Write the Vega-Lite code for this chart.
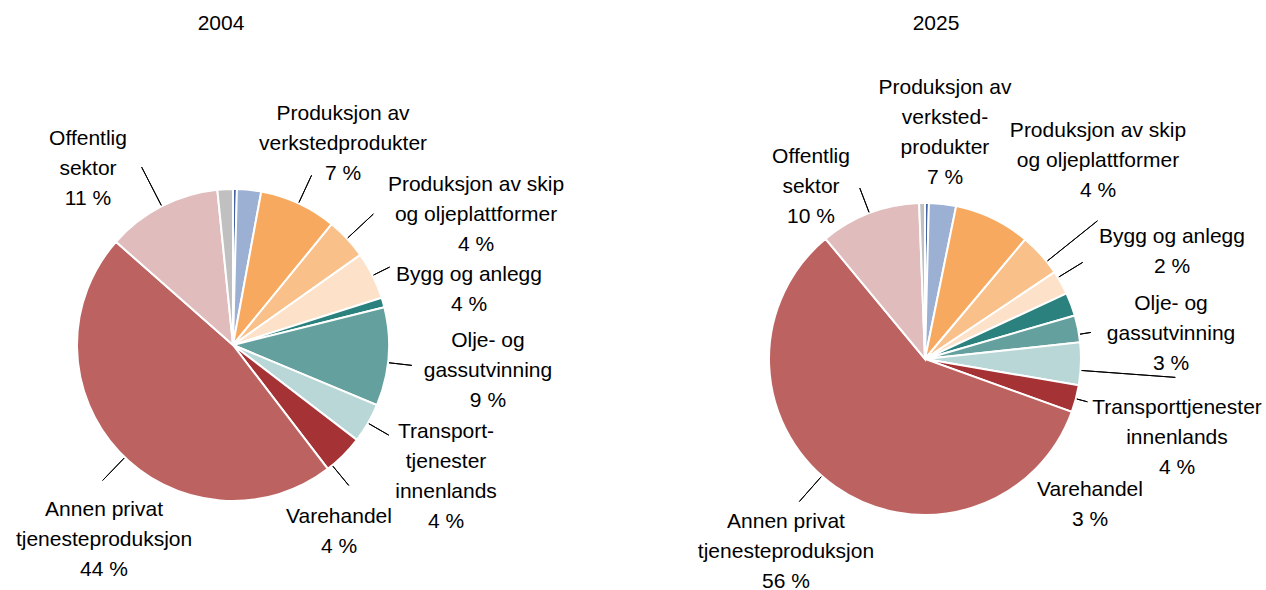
{
  "$schema": "https://vega.github.io/schema/vega-lite/v6.json",
  "padding": {"left": 15, "top": 12, "right": 0, "bottom": 0},
  "autosize": {"type": "pad"},
  "bounds": "flush",
  "spacing": 372,
  "background": "white",
  "config": {
    "view": {"stroke": null},
    "font": "Liberation Sans",
    "title": {"fontSize": 21, "fontWeight": "normal", "color": "#000000", "font": "Liberation Sans", "frame": "group", "baseline": "alphabetic", "anchor": "middle"},
    "text": {"font": "Liberation Sans", "fontSize": 21, "color": "#000000", "lineBreak": "\n", "lineHeight": 30},
    "arc": {"strokeWidth": 1}
  },
  "data": {"values": [
    {"year": 2004, "nr": 1, "sektor": "Primærnæringer", "andel": 0.4, "label": ""},
    {"year": 2004, "nr": 2, "sektor": "Produksjon av andre varer", "andel": 2.5, "label": ""},
    {"year": 2004, "nr": 3, "sektor": "Produksjon av verkstedprodukter", "andel": 8.0, "label": "Produksjon av\nverkstedprodukter\n7 %"},
    {"year": 2004, "nr": 4, "sektor": "Produksjon av skip og oljeplattformer", "andel": 4.3, "label": "Produksjon av skip\nog oljeplattformer\n4 %"},
    {"year": 2004, "nr": 5, "sektor": "Bygg og anlegg", "andel": 4.9, "label": "Bygg og anlegg\n4 %"},
    {"year": 2004, "nr": 6, "sektor": "Utenriks sjøfart", "andel": 1.0, "label": ""},
    {"year": 2004, "nr": 7, "sektor": "Olje- og gassutvinning", "andel": 10.2, "label": "Olje- og\ngassutvinning\n9 %"},
    {"year": 2004, "nr": 8, "sektor": "Transporttjenester innenlands", "andel": 4.1, "label": "Transport-\ntjenester\ninnenlands\n4 %"},
    {"year": 2004, "nr": 9, "sektor": "Varehandel", "andel": 4.2, "label": "Varehandel\n4 %"},
    {"year": 2004, "nr": 10, "sektor": "Annen privat tjenesteproduksjon", "andel": 46.9, "label": "Annen privat\ntjenesteproduksjon\n44 %"},
    {"year": 2004, "nr": 11, "sektor": "Offentlig sektor", "andel": 11.9, "label": "Offentlig\nsektor\n11 %"},
    {"year": 2004, "nr": 12, "sektor": "Kraftforsyning", "andel": 1.6, "label": ""},
    {"year": 2025, "nr": 1, "sektor": "Primærnæringer", "andel": 0.4, "label": ""},
    {"year": 2025, "nr": 2, "sektor": "Produksjon av andre varer", "andel": 2.8, "label": ""},
    {"year": 2025, "nr": 3, "sektor": "Produksjon av verkstedprodukter", "andel": 7.9, "label": "Produksjon av\nverksted-\nprodukter\n7 %"},
    {"year": 2025, "nr": 4, "sektor": "Produksjon av skip og oljeplattformer", "andel": 4.5, "label": "Produksjon av skip\nog oljeplattformer\n4 %"},
    {"year": 2025, "nr": 5, "sektor": "Bygg og anlegg", "andel": 2.5, "label": "Bygg og anlegg\n2 %"},
    {"year": 2025, "nr": 6, "sektor": "Utenriks sjøfart", "andel": 2.4, "label": ""},
    {"year": 2025, "nr": 7, "sektor": "Olje- og gassutvinning", "andel": 2.8, "label": "Olje- og\ngassutvinning\n3 %"},
    {"year": 2025, "nr": 8, "sektor": "Transporttjenester innenlands", "andel": 4.4, "label": "Transporttjenester\ninnenlands\n4 %"},
    {"year": 2025, "nr": 9, "sektor": "Varehandel", "andel": 2.8, "label": "Varehandel\n3 %"},
    {"year": 2025, "nr": 10, "sektor": "Annen privat tjenesteproduksjon", "andel": 58.5, "label": "Annen privat\ntjenesteproduksjon\n56 %"},
    {"year": 2025, "nr": 11, "sektor": "Offentlig sektor", "andel": 10.4, "label": "Offentlig\nsektor\n10 %"},
    {"year": 2025, "nr": 12, "sektor": "Kraftforsyning", "andel": 0.6, "label": ""}
  ]},
  "hconcat": [
    {
      "width": 320,
      "height": 320,
      "title": {"text": "2004", "offset": 69, "dx": -12, "frame": "group"},
      "transform": [
        {"filter": "datum.year == 2004"},
        {"stack": "andel", "groupby": [], "sort": [{"field": "nr", "order": "ascending"}], "as": ["a0", "a1"]}
      ],
      "encoding": {
        "theta": {"field": "a0", "type": "quantitative", "stack": null, "scale": {"domain": [0, 100]}}
      },
      "layer": [
        {
          "mark": {"type": "arc", "radius": 156, "stroke": "#ffffff", "strokeWidth": 2},
          "encoding": {
            "theta2": {"field": "a1"},
            "color": {"field": "sektor", "type": "nominal", "legend": null,
              "scale": {
                "domain": ["Primærnæringer", "Produksjon av andre varer", "Produksjon av verkstedprodukter", "Produksjon av skip og oljeplattformer", "Bygg og anlegg", "Utenriks sjøfart", "Olje- og gassutvinning", "Transporttjenester innenlands", "Varehandel", "Annen privat tjenesteproduksjon", "Offentlig sektor", "Kraftforsyning"],
                "range": ["#44649F", "#9BB0D3", "#F6A95F", "#F9C08A", "#FDE2C9", "#2B817E", "#63A09E", "#BAD7D8", "#A53234", "#BC6361", "#E0BCBD", "#C0C0C0"]
              }}
          }
        },
        {"transform": [{"filter": "datum.nr == 3"}], "mark": {"type": "arc", "radius2": 157, "radius": 187, "thetaOffset": 0.2513, "theta2Offset": 0.2513, "filled": false, "stroke": "#000000", "strokeWidth": 1}, "encoding": {"theta2": {"field": "a0"}}},
        {"transform": [{"filter": "datum.nr == 4"}], "mark": {"type": "arc", "radius2": 157, "radius": 192, "thetaOffset": 0.1351, "theta2Offset": 0.1351, "filled": false, "stroke": "#000000", "strokeWidth": 1}, "encoding": {"theta2": {"field": "a0"}}},
        {"transform": [{"filter": "datum.nr == 5"}], "mark": {"type": "arc", "radius2": 157, "radius": 175, "thetaOffset": 0.1539, "theta2Offset": 0.1539, "filled": false, "stroke": "#000000", "strokeWidth": 1}, "encoding": {"theta2": {"field": "a0"}}},
        {"transform": [{"filter": "datum.nr == 7"}], "mark": {"type": "arc", "radius2": 157, "radius": 180, "thetaOffset": 0.3585, "theta2Offset": 0.3585, "filled": false, "stroke": "#000000", "strokeWidth": 1}, "encoding": {"theta2": {"field": "a0"}}},
        {"transform": [{"filter": "datum.nr == 8"}], "mark": {"type": "arc", "radius2": 157, "radius": 180, "thetaOffset": 0.1288, "theta2Offset": 0.1288, "filled": false, "stroke": "#000000", "strokeWidth": 1}, "encoding": {"theta2": {"field": "a0"}}},
        {"transform": [{"filter": "datum.nr == 9"}], "mark": {"type": "arc", "radius2": 157, "radius": 182, "thetaOffset": 0.2280, "theta2Offset": 0.2280, "filled": false, "stroke": "#000000", "strokeWidth": 1}, "encoding": {"theta2": {"field": "a0"}}},
        {"transform": [{"filter": "datum.nr == 10"}], "mark": {"type": "arc", "radius2": 157, "radius": 188, "thetaOffset": 1.4197, "theta2Offset": 1.4197, "filled": false, "stroke": "#000000", "strokeWidth": 1}, "encoding": {"theta2": {"field": "a0"}}},
        {"transform": [{"filter": "datum.nr == 11"}], "mark": {"type": "arc", "radius2": 157, "radius": 200, "thetaOffset": 0.3738, "theta2Offset": 0.3738, "filled": false, "stroke": "#000000", "strokeWidth": 1}, "encoding": {"theta2": {"field": "a0"}}},
        {"transform": [{"filter": "datum.nr == 3"}], "mark": {"type": "text", "radius": 256.3, "thetaOffset": 0.2615}, "encoding": {"text": {"field": "label"}}},
        {"transform": [{"filter": "datum.nr == 4"}], "mark": {"type": "text", "radius": 291.1, "thetaOffset": 0.3030}, "encoding": {"text": {"field": "label"}}},
        {"transform": [{"filter": "datum.nr == 5"}], "mark": {"type": "text", "radius": 246.3, "thetaOffset": 0.3255}, "encoding": {"text": {"field": "label"}}},
        {"transform": [{"filter": "datum.nr == 7"}], "mark": {"type": "text", "radius": 255.0, "thetaOffset": 0.2274}, "encoding": {"text": {"field": "label"}}},
        {"transform": [{"filter": "datum.nr == 8"}], "mark": {"type": "text", "radius": 230.2, "thetaOffset": -0.0073}, "encoding": {"text": {"field": "label"}}},
        {"transform": [{"filter": "datum.nr == 9"}], "mark": {"type": "text", "radius": 202.2, "thetaOffset": 0.3655}, "encoding": {"text": {"field": "label"}}},
        {"transform": [{"filter": "datum.nr == 10"}], "mark": {"type": "text", "radius": 209.8, "thetaOffset": 1.3154}, "encoding": {"text": {"field": "label"}}},
        {"transform": [{"filter": "datum.nr == 11"}], "mark": {"type": "text", "radius": 252.3, "thetaOffset": 0.2360}, "encoding": {"text": {"field": "label"}}}
      ]
    },
    {
      "width": 320,
      "height": 348,
      "title": {"text": "2025", "offset": 43, "dx": 11, "frame": "group"},
      "transform": [
        {"filter": "datum.year == 2025"},
        {"stack": "andel", "groupby": [], "sort": [{"field": "nr", "order": "ascending"}], "as": ["a0", "a1"]}
      ],
      "encoding": {
        "theta": {"field": "a0", "type": "quantitative", "stack": null, "scale": {"domain": [0, 100]}}
      },
      "layer": [
        {
          "mark": {"type": "arc", "radius": 156, "stroke": "#ffffff", "strokeWidth": 2},
          "encoding": {
            "theta2": {"field": "a1"},
            "color": {"field": "sektor", "type": "nominal", "legend": null,
              "scale": {
                "domain": ["Primærnæringer", "Produksjon av andre varer", "Produksjon av verkstedprodukter", "Produksjon av skip og oljeplattformer", "Bygg og anlegg", "Utenriks sjøfart", "Olje- og gassutvinning", "Transporttjenester innenlands", "Varehandel", "Annen privat tjenesteproduksjon", "Offentlig sektor", "Kraftforsyning"],
                "range": ["#44649F", "#9BB0D3", "#F6A95F", "#F9C08A", "#FDE2C9", "#2B817E", "#63A09E", "#BAD7D8", "#A53234", "#BC6361", "#E0BCBD", "#C0C0C0"]
              }}
          }
        },
        {"transform": [{"filter": "datum.nr == 4"}], "mark": {"type": "arc", "radius2": 157, "radius": 221, "thetaOffset": 0.1979, "theta2Offset": 0.1979, "filled": false, "stroke": "#000000", "strokeWidth": 1}, "encoding": {"theta2": {"field": "a0"}}},
        {"transform": [{"filter": "datum.nr == 5"}], "mark": {"type": "arc", "radius2": 157, "radius": 185, "thetaOffset": 0.0408, "theta2Offset": 0.0408, "filled": false, "stroke": "#000000", "strokeWidth": 1}, "encoding": {"theta2": {"field": "a0"}}},
        {"transform": [{"filter": "datum.nr == 7"}], "mark": {"type": "arc", "radius2": 157, "radius": 168, "thetaOffset": 0.1239, "theta2Offset": 0.1239, "filled": false, "stroke": "#000000", "strokeWidth": 1}, "encoding": {"theta2": {"field": "a0"}}},
        {"transform": [{"filter": "datum.nr == 8"}], "mark": {"type": "arc", "radius2": 157, "radius": 251, "thetaOffset": 0.1801, "theta2Offset": 0.1801, "filled": false, "stroke": "#000000", "strokeWidth": 1}, "encoding": {"theta2": {"field": "a0"}}},
        {"transform": [{"filter": "datum.nr == 9"}], "mark": {"type": "arc", "radius2": 157, "radius": 168, "thetaOffset": 0.0880, "theta2Offset": 0.0880, "filled": false, "stroke": "#000000", "strokeWidth": 1}, "encoding": {"theta2": {"field": "a0"}}},
        {"transform": [{"filter": "datum.nr == 10"}], "mark": {"type": "arc", "radius2": 157, "radius": 190, "thetaOffset": 1.9478, "theta2Offset": 1.9478, "filled": false, "stroke": "#000000", "strokeWidth": 1}, "encoding": {"theta2": {"field": "a0"}}},
        {"transform": [{"filter": "datum.nr == 11"}], "mark": {"type": "arc", "radius2": 157, "radius": 183, "thetaOffset": 0.3267, "theta2Offset": 0.3267, "filled": false, "stroke": "#000000", "strokeWidth": 1}, "encoding": {"theta2": {"field": "a0"}}},
        {"transform": [{"filter": "datum.nr == 3"}], "mark": {"type": "text", "radius": 272.2, "thetaOffset": -0.1276}, "encoding": {"text": {"field": "label"}}},
        {"transform": [{"filter": "datum.nr == 4"}], "mark": {"type": "text", "radius": 286.6, "thetaOffset": -0.0494}, "encoding": {"text": {"field": "label"}}},
        {"transform": [{"filter": "datum.nr == 5"}], "mark": {"type": "text", "radius": 275.4, "thetaOffset": 0.1325}, "encoding": {"text": {"field": "label"}}},
        {"transform": [{"filter": "datum.nr == 7"}], "mark": {"type": "text", "radius": 252.2, "thetaOffset": 0.0609}, "encoding": {"text": {"field": "label"}}},
        {"transform": [{"filter": "datum.nr == 8"}], "mark": {"type": "text", "radius": 256.8, "thetaOffset": 0.3007}, "encoding": {"text": {"field": "label"}}},
        {"transform": [{"filter": "datum.nr == 9"}], "mark": {"type": "text", "radius": 211.0, "thetaOffset": 0.5032}, "encoding": {"text": {"field": "label"}}},
        {"transform": [{"filter": "datum.nr == 10"}], "mark": {"type": "text", "radius": 214.4, "thetaOffset": 1.9307}, "encoding": {"text": {"field": "label"}}},
        {"transform": [{"filter": "datum.nr == 11"}], "mark": {"type": "text", "radius": 231.8, "thetaOffset": 0.1770}, "encoding": {"text": {"field": "label"}}}
      ]
    }
  ]
}
